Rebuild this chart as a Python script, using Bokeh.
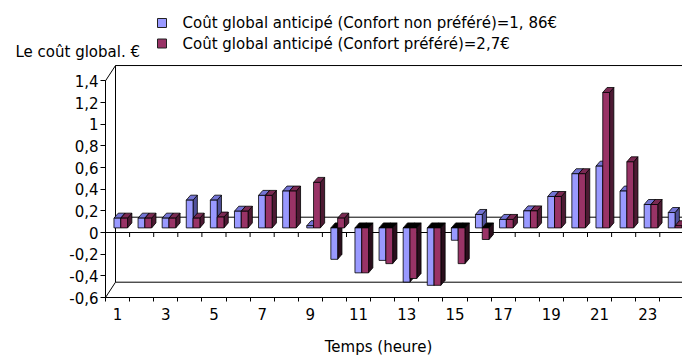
from bokeh.plotting import figure
from bokeh.models import Range1d, LinearAxis, FixedTicker, ColumnDataSource, Label
from bokeh.embed import file_html
from bokeh.resources import INLINE
from bokeh.core.properties import value

# ---------------- data ----------------
hours = list(range(1, 25))
hour_ticks = list(range(1, 25, 2))
cost_non_pref = [0.09, 0.09, 0.09, 0.256, 0.256, 0.154, 0.30, 0.34, 0.02, -0.29, -0.415, -0.30,
                 -0.50, -0.53, -0.114, 0.124, 0.078, 0.157, 0.29, 0.50, 0.57, 0.34, 0.216, 0.142]
cost_pref = [0.09, 0.09, 0.09, 0.09, 0.10, 0.154, 0.30, 0.34, 0.42, 0.09, -0.415, -0.33,
             -0.467, -0.53, -0.33, -0.107, 0.078, 0.157, 0.29, 0.50, 1.25, 0.61, 0.216, 0.02]
y_ticks = [-0.6, -0.4, -0.2, 0, 0.2, 0.4, 0.6, 0.8, 1, 1.2, 1.4]
y_tick_labels = ["-0,6", "-0,4", "-0,2", "0", "0,2", "0,4", "0,6", "0,8", "1", "1,2", "1,4"]
series_names = ["Coût global anticipé (Confort non préféré)=1, 86€",
                "Coût global anticipé (Confort préféré)=2,7€"]
y_title = "Le coût global. €"
x_title = "Temps (heure)"

# ---------------- layout ----------------
FONT = "DejaVu Sans"
FS = "15px"
W, H = 682, 356
AX_LEFT, AX_BOTTOM = 105, 297      # pixel position of the front axes
PXX, PXY = 24.1, 108.33            # pixels per hour / per euro
y_min, y_max = y_ticks[0], y_ticks[-1]
x0_axis = hours[0] - 0.5
x_start = x0_axis - AX_LEFT / PXX
x_end = x_start + W / PXX
y_start = y_min - (H - AX_BOTTOM) / PXY
y_end = y_start + H / PXY

def px2x(px):   # pixel -> data x (for annotation placement)
    return x_start + px / PXX

def py2y(py):   # pixel -> data y
    return y_end - py / PXY

p = figure(width=W, height=H, x_range=Range1d(x_start, x_end), y_range=Range1d(y_start, y_end),
           output_backend="svg", toolbar_location=None, title=None,
           x_axis_type=None, y_axis_type=None,
           min_border=0, min_border_left=0, min_border_bottom=0, min_border_top=0, min_border_right=0)
p.outline_line_color = None
p.background_fill_color = "white"
p.border_fill_color = "white"

# axes (fixed at the front edges of the 3D box)
yax = LinearAxis(ticker=FixedTicker(ticks=y_ticks), bounds=(y_min, y_max), fixed_location=x0_axis)
yax.major_label_overrides = {t: l for t, l in zip(y_ticks, y_tick_labels)}
yax.major_tick_out = 5
yax.major_tick_in = 0
yax.minor_tick_line_color = None
yax.major_label_standoff = 2
yax.major_label_text_font = FONT
yax.major_label_text_font_size = FS
yax.major_label_text_color = "black"
yax.axis_line_color = "black"
yax.major_tick_line_color = "black"
p.add_layout(yax, "left")

boundaries = [h - 0.5 for h in hours] + [hours[-1] + 0.5]
xax = LinearAxis(ticker=FixedTicker(ticks=hour_ticks, minor_ticks=boundaries),
                 bounds=(x0_axis, x_end + 1), fixed_location=y_min)
xax.major_tick_out = 0
xax.major_tick_in = 0
xax.minor_tick_out = 4
xax.minor_tick_in = 0
xax.minor_tick_line_color = "black"
xax.major_label_standoff = 6
xax.major_label_text_font = FONT
xax.major_label_text_font_size = FS
xax.major_label_text_color = "black"
xax.axis_line_color = "black"
p.add_layout(xax, "below")

# ---------------- 3D box (walls) ----------------
WDX, WDY = 10 / PXX, 15.3 / PXY
bx = x0_axis + WDX
far = x_end + 2
seg_x0 = [x0_axis, x0_axis, bx, bx, bx, bx, x0_axis]
seg_y0 = [y_max, y_min, y_min + WDY, y_max + WDY, y_min + WDY, WDY, 0]
seg_x1 = [bx, bx, bx, far, far, far, far]
seg_y1 = [y_max + WDY, y_min + WDY, y_max + WDY, y_max + WDY, y_min + WDY, WDY, 0]
p.segment(x0=seg_x0, y0=seg_y0, x1=seg_x1, y1=seg_y1, line_color="black", line_width=1)
tick_len = 4.5 / PXY
p.segment(x0=boundaries[1:], y0=[0] * (len(boundaries) - 1), x1=boundaries[1:],
          y1=[-tick_len] * (len(boundaries) - 1), line_color="black", line_width=1)

# ---------------- 3D bars ----------------
BASE = 4.6 / PXY
DX, DY = 4.3 / PXX, 5.0 / PXY
styles = [
    (cost_non_pref, -0.149, 0.133, "#9999FF", "#7474D4", "#50509A"),
    (cost_pref, 0.133, 0.415, "#993366", "#7A2952", "#4D1A33"),
]
face_xs, face_ys, face_col = [], [], []
fronts = [dict(l=[], r=[], b=[], t=[]) for _ in styles]
for i, h in enumerate(hours):
    for k, (vals, o0, o1, cf, ct, cs) in enumerate(styles):
        v = vals[i]
        x0, x1 = h + o0, h + o1
        lo, hi = BASE + min(v, 0), BASE + max(v, 0)
        face_xs.append([x1, x1 + DX, x1 + DX, x1])
        face_ys.append([lo, lo + DY, hi + DY, hi])
        face_col.append(cs if v >= 0 else "#2A0E1C")
        face_xs.append([x0, x1, x1 + DX, x0 + DX])
        face_ys.append([hi, hi, hi + DY, hi + DY])
        face_col.append(ct if v >= 0 else "#000000")
        fronts[k]["l"].append(x0)
        fronts[k]["r"].append(x1)
        fronts[k]["b"].append(lo)
        fronts[k]["t"].append(hi)

p.patches(xs="xs", ys="ys", fill_color="c", line_color="black", line_width=0.8,
          source=ColumnDataSource(dict(xs=face_xs, ys=face_ys, c=face_col)))
for k, st in enumerate(styles):
    f = fronts[k]
    p.quad(left=f["l"], right=f["r"], bottom=f["b"], top=f["t"], fill_color=st[3],
           line_color="black", line_width=0.8)

# ---------------- legend & titles ----------------
leg_y = [py2y(22.5), py2y(43)]
p.scatter(x=[px2x(161.5)] * 2, y=leg_y, marker="square", size=9,
          fill_color=[styles[0][3], styles[1][3]], line_color="#222222", line_width=1)
p.text(x=[px2x(182)] * 2, y=leg_y, text=series_names, text_font=value(FONT),
       text_font_size=FS, text_baseline="middle", text_align="left", text_color="black")

p.add_layout(Label(x=px2x(15), y=py2y(51), text=y_title, text_font=FONT, text_font_size=FS,
                   text_baseline="middle", text_align="left", text_color="black"))
p.add_layout(Label(x=px2x(378), y=py2y(346), text=x_title, text_font=FONT, text_font_size=FS,
                   text_baseline="middle", text_align="center", text_color="black"))

open("out.html", "w").write(file_html(p, INLINE))
